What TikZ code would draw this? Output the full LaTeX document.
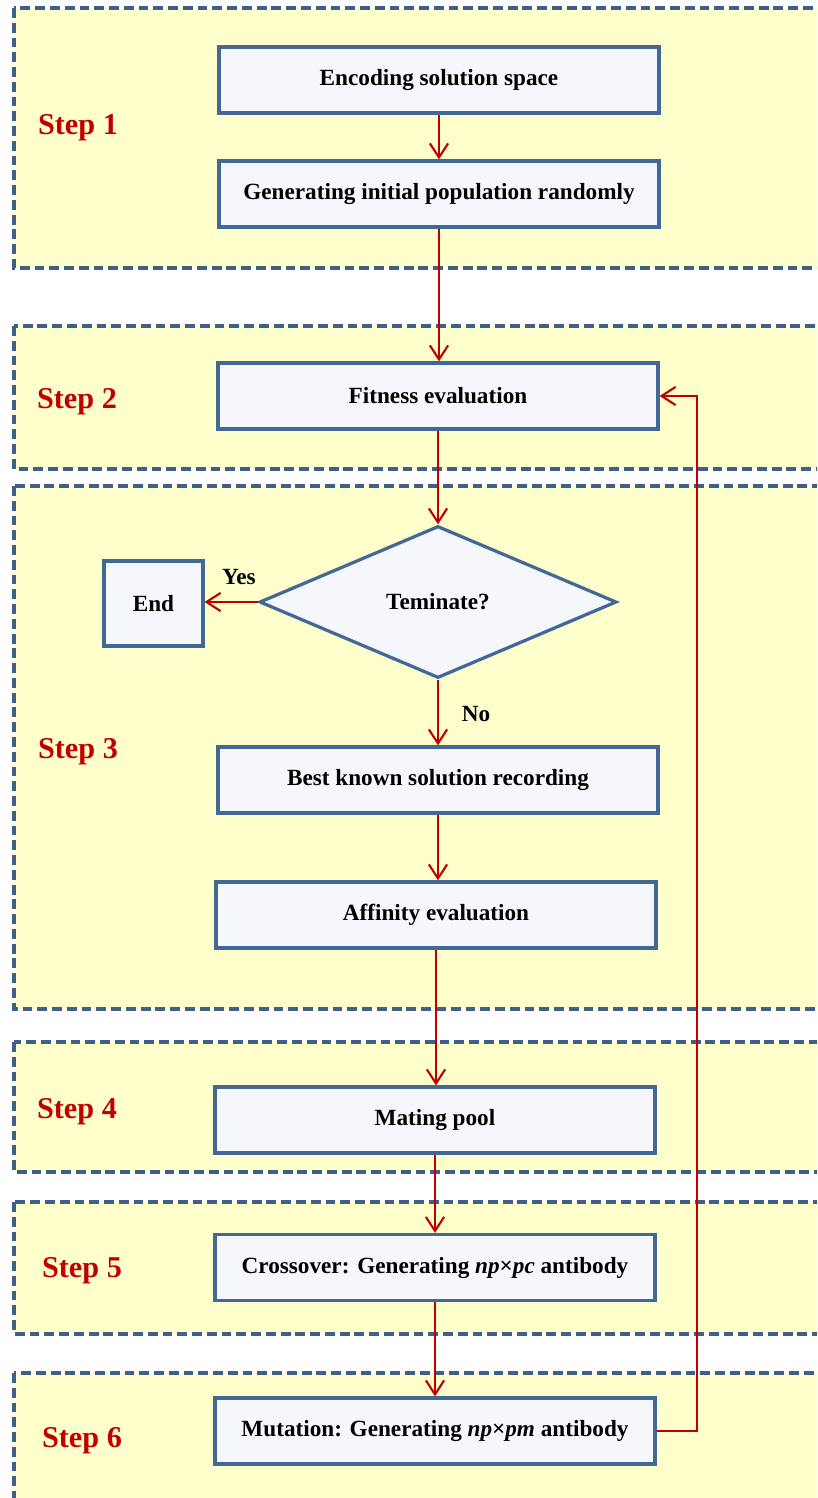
\documentclass[tikz,border=0pt]{standalone}
\usepackage{fontspec}
\setmainfont{Liberation Serif}
\usetikzlibrary{shapes.geometric,arrows.meta}

\definecolor{panelfill}{RGB}{255,255,204}
\definecolor{paneledge}{RGB}{62,95,138}
\definecolor{boxfill}{RGB}{245,247,252}
\definecolor{boxedge}{RGB}{65,104,150}
\definecolor{flowred}{RGB}{192,0,0}

\begin{document}
\begin{tikzpicture}[x=0.025cm,y=-0.025cm,
  panel/.style={fill=panelfill,draw=paneledge,line width=2.2pt,dash pattern=on 7pt off 3.5pt},
  procbox/.style={rectangle,fill=boxfill,draw=boxedge,line width=2.3pt,minimum width=11cm,minimum height=1.65cm,inner sep=0pt,font=\fontsize{16.5}{19}\selectfont\bfseries},
  decision/.style={diamond,fill=boxfill,draw=boxedge,line width=2.3pt,minimum width=8.925cm,minimum height=3.8cm,inner sep=0pt,font=\fontsize{16.5}{19}\selectfont\bfseries},
  steplabel/.style={text=flowred,font=\fontsize{21.5}{25}\selectfont\bfseries},
  answer/.style={font=\fontsize{16.5}{19}\selectfont\bfseries},
  flow/.style={draw=flowred,line width=1.5pt,-{Straight Barb[length=10pt,width=13pt]}}]

\clip (0,0) rectangle (817,1498);

% step panels
\draw[panel] (14,8) rectangle (840,268);
\draw[panel] (14,326) rectangle (840,469);
\draw[panel] (14,486) rectangle (840,1009);
\draw[panel] (14,1042) rectangle (840,1172);
\draw[panel] (14,1202) rectangle (840,1334);
\draw[panel] (14,1373) rectangle (840,1530);

\node[steplabel] (s1) at (78,128) {Step 1};
\node[steplabel] (s2) at (77,402) {Step 2};
\node[steplabel] (s3) at (78,752) {Step 3};
\node[steplabel] (s4) at (77,1112) {Step 4};
\node[steplabel] (s5) at (82,1271) {Step 5};
\node[steplabel] (s6) at (82,1441) {Step 6};

% boxes
\node[procbox] (enc) at (439,80) {Encoding solution space};
\node[procbox] (gen) at (439,194) {Generating initial population randomly};
\node[procbox] (fit) at (438,396) {Fitness evaluation};
\node[decision] (term) at (438,602) {Teminate?};
\node[procbox,minimum width=2.475cm,minimum height=2.125cm] (fin) at (153.5,603.5) {End};
\node[procbox] (best) at (438,780) {Best known solution recording};
\node[procbox] (aff) at (436,915) {Affinity evaluation};
\node[procbox] (mate) at (435,1120) {Mating pool};
\node[procbox] (cross) at (435,1267.5) {Crossover: Generating \textit{np}×\textit{pc} antibody};
\node[procbox] (mut) at (435,1431) {Mutation: Generating \textit{np}×\textit{pm} antibody};

\node[answer] (yes) at (239,577) {Yes};
\node[answer] (no) at (476,714) {No};

% arrows
\draw[flow] (enc.south) -- (enc.south |- gen.north);
\draw[flow] (gen.south) -- (gen.south |- fit.north);
\draw[flow] (fit.south) -- (fit.south |- term.north);
\draw[flow] (term.west) -- (term.west -| fin.east);
\draw[flow] (term.south) -- (term.south |- best.north);
\draw[flow] (best.south) -- (best.south |- aff.north);
\draw[flow] (aff.south) -- (aff.south |- mate.north);
\draw[flow] (mate.south) -- (mate.south |- cross.north);
\draw[flow] (cross.south) -- (cross.south |- mut.north);
\coordinate (back) at (697,1431);
\draw[flow] (mut.east) -- (back) |- (fit.east);
\end{tikzpicture}
\end{document}
